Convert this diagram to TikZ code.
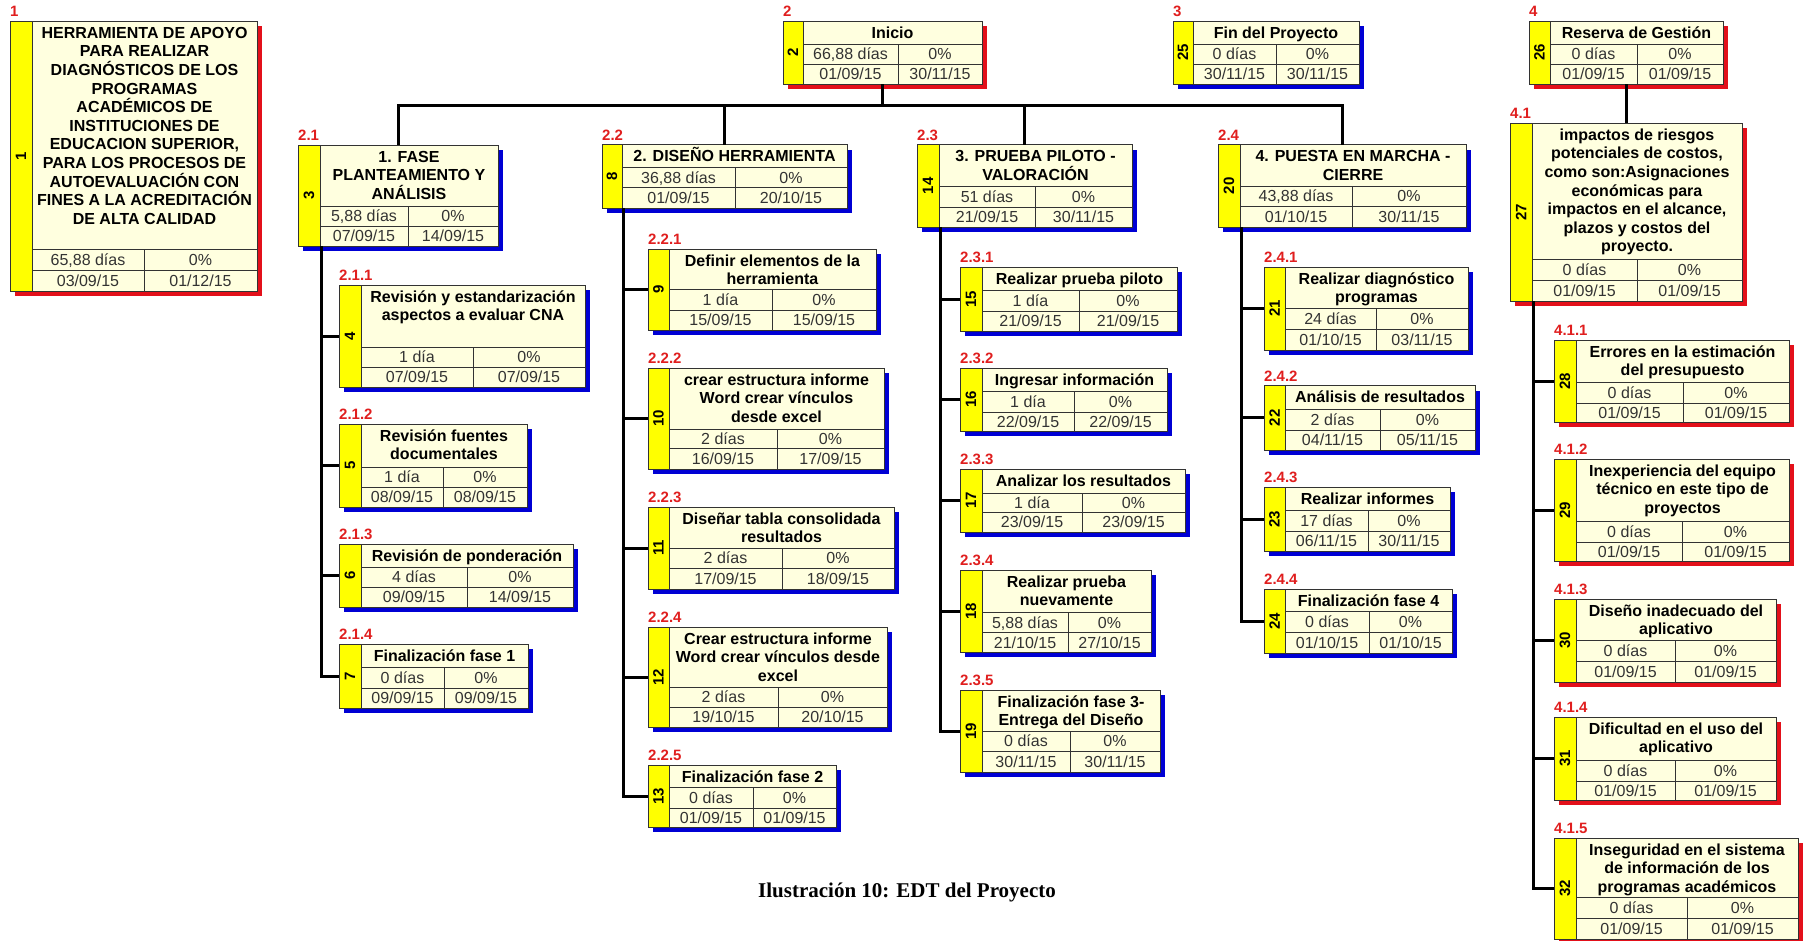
\documentclass[tikz,border=0pt]{standalone}
\usepackage{fontspec}
\setmainfont{Liberation Sans}
\newfontfamily\capfont{Liberation Serif}
\usetikzlibrary{fit}
\definecolor{cream}{HTML}{FFFFDF}
\definecolor{stripyellow}{HTML}{FFFF00}
\definecolor{shred}{HTML}{E3101A}
\definecolor{shblue}{HTML}{0000D4}
\definecolor{labelred}{HTML}{E01E1E}
\definecolor{framegray}{HTML}{333333}
\definecolor{datagray}{HTML}{333333}
\tikzset{
  wbsfill/.style={fill=cream, inner sep=0pt, outer sep=0pt},
  gridline/.style={draw=framegray, line width=0.8pt},
  frameline/.style={draw=framegray, line width=1pt},
  numtext/.style={rotate=90, inner sep=0pt, font=\bfseries\fontsize{15}{15}\selectfont},
  labeltext/.style={anchor=base west, inner sep=0pt, text=labelred, font=\bfseries\fontsize{15}{15}\selectfont},
  titletext/.style={anchor=north, inner sep=0pt, align=center, font=\bfseries\fontsize{16}{18.6}\selectfont},
  celltext/.style={inner sep=0pt, text height=11.5pt, text depth=0pt, text=datagray, font=\fontsize{16}{16}\selectfont},
  conn/.style={line width=3pt, draw=black, line join=miter},
  captiontext/.style={inner sep=0pt, font=\capfont\bfseries\fontsize{21}{21}\selectfont},
}
\newcommand\geo[8]{\def\Xa{#1}\def\Ya{#2}\def\Xb{#3}\def\Yb{#4}\def\Xy{#5}\def\Yt{#6}\def\Yr{#7}\def\Xc{#8}}
% #1 name, #2 shadow colour, #3 number, #4 label, #5 title, #6 duration, #7 start, #8 end
\newcommand\wbs[8]{%
  \fill[#2] ({\Xa+5},{\Ya+5}) rectangle ({\Xb+5},{\Yb+5});
  \coordinate (#1-nw) at (\Xa,\Ya);
  \coordinate (#1-se) at (\Xb,\Yb);
  \node[wbsfill, fit=(#1-nw)(#1-se)] (#1) {};
  \fill[stripyellow] (\Xa,\Ya) rectangle (\Xy,\Yb);
  \draw[gridline] (\Xy,\Ya) -- (\Xy,\Yb) (\Xy,\Yt) -- (\Xb,\Yt) (\Xy,\Yr) -- (\Xb,\Yr) (\Xc,\Yt) -- (\Xc,\Yb);
  \draw[frameline] (\Xa,\Ya) rectangle (\Xb,\Yb);
  \node[numtext] at ({(\Xa+\Xy)/2},{(\Ya+\Yb)/2}) {#3};
  \node[labeltext] at (\Xa,{\Ya-4.5}) {#4};
  \node[titletext] at ({(\Xy+\Xb)/2},{\Ya+5}) {\rule{0pt}{12pt}#5};
  \node[celltext] at ({(\Xy+\Xc)/2},{(\Yt+\Yr)/2}) {#6};
  \node[celltext] at ({(\Xc+\Xb)/2},{(\Yt+\Yr)/2}) {0\%};
  \node[celltext] at ({(\Xy+\Xc)/2},{(\Yr+\Yb)/2}) {#7};
  \node[celltext] at ({(\Xc+\Xb)/2},{(\Yr+\Yb)/2}) {#8};
  \coordinate (#1-sp) at ({\Xy+1},\Yb);
}
\begin{document}
\begin{tikzpicture}[x=1pt,y=-1pt]
\useasboundingbox (0,0) rectangle (1803,940);
\fill[white] (0,0) rectangle (1803,940);
% top level
\geo{10}{21}{257}{291}{32}{249}{270}{144}
\wbs{n1}{shred}{1}{1}{HERRAMIENTA DE APOYO\\PARA REALIZAR\\DIAGNÓSTICOS DE LOS\\PROGRAMAS\\ACADÉMICOS DE\\INSTITUCIONES DE\\EDUCACION SUPERIOR,\\PARA LOS PROCESOS DE\\AUTOEVALUACIÓN CON\\FINES A LA ACREDITACIÓN\\DE ALTA CALIDAD}{65,88 días}{03/09/15}{01/12/15}
\geo{783}{21}{982}{84}{803}{44}{64}{898}
\wbs{n2}{shred}{2}{2}{Inicio}{66,88 días}{01/09/15}{30/11/15}
\geo{1173}{21}{1359}{84}{1193}{44}{64}{1276}
\wbs{n25}{shblue}{25}{3}{Fin del Proyecto}{0 días}{30/11/15}{30/11/15}
\geo{1529}{21}{1723}{84}{1550}{44}{64}{1637}
\wbs{n26}{shred}{26}{4}{Reserva de Gestión}{0 días}{01/09/15}{01/09/15}
\geo{1510}{123}{1742}{301}{1532}{259}{280}{1637}
\wbs{n27}{shred}{27}{4.1}{impactos de riesgos\\potenciales de costos,\\como son:Asignaciones\\económicas para\\impactos en el alcance,\\plazos y costos del\\proyecto.}{0 días}{01/09/15}{01/09/15}
% phases
\geo{298}{145}{498}{246}{320}{206}{226}{408}
\wbs{n3}{shblue}{3}{2.1}{1. FASE\\PLANTEAMIENTO Y\\ANÁLISIS}{5,88 días}{07/09/15}{14/09/15}
\geo{602}{144.5}{847}{208}{622}{167}{187.5}{735}
\wbs{n8}{shblue}{8}{2.2}{\smash{2. DISEÑO HERRAMIENTA}}{36,88 días}{01/09/15}{20/10/15}
\geo{917}{144.5}{1132}{227}{939}{186}{207}{1035}
\wbs{n14}{shblue}{14}{2.3}{3. PRUEBA PILOTO -\\VALORACIÓN}{51 días}{21/09/15}{30/11/15}
\geo{1218}{144.5}{1466}{227}{1240}{186}{206}{1352}
\wbs{n20}{shblue}{20}{2.4}{4. PUESTA EN MARCHA -\\CIERRE}{43,88 días}{01/10/15}{30/11/15}
% 2.1.x
\geo{339}{285}{585}{387}{361}{347}{367}{473}
\wbs{n4}{shblue}{4}{2.1.1}{Revisión y estandarización\\aspectos a evaluar CNA}{1 día}{07/09/15}{07/09/15}
\geo{339}{424}{527}{507}{361}{467}{487}{443}
\wbs{n5}{shblue}{5}{2.1.2}{Revisión fuentes\\documentales}{1 día}{08/09/15}{08/09/15}
\geo{339}{544}{573}{607}{361}{567}{587}{467}
\wbs{n6}{shblue}{6}{2.1.3}{Revisión de ponderación}{4 días}{09/09/15}{14/09/15}
\geo{339}{644}{528}{708}{361}{667}{688}{444}
\wbs{n7}{shblue}{7}{2.1.4}{Finalización fase 1}{0 días}{09/09/15}{09/09/15}
% 2.2.x
\geo{648}{249}{876}{330}{669}{289}{310}{772}
\wbs{n9}{shblue}{9}{2.2.1}{Definir elementos de la\\herramienta}{1 día}{15/09/15}{15/09/15}
\geo{648}{368}{884}{469}{669}{429}{448}{777}
\wbs{n10}{shblue}{10}{2.2.2}{crear estructura informe\\Word crear vínculos\\desde excel}{2 días}{16/09/15}{17/09/15}
\geo{648}{507}{894}{589}{669}{548}{568}{782}
\wbs{n11}{shblue}{11}{2.2.3}{Diseñar tabla consolidada\\resultados}{2 días}{17/09/15}{18/09/15}
\geo{648}{627}{887}{727}{669}{687}{707}{778}
\wbs{n12}{shblue}{12}{2.2.4}{Crear estructura informe\\Word crear vínculos desde\\excel}{2 días}{19/10/15}{20/10/15}
\geo{648}{765}{836}{827}{669}{787}{808}{753}
\wbs{n13}{shblue}{13}{2.2.5}{Finalización fase 2}{0 días}{01/09/15}{01/09/15}
% 2.3.x
\geo{960}{267}{1177}{331}{982}{290}{311}{1079}
\wbs{n15}{shblue}{15}{2.3.1}{Realizar prueba piloto}{1 día}{21/09/15}{21/09/15}
\geo{960}{368}{1167}{431}{982}{391}{412}{1074}
\wbs{n16}{shblue}{16}{2.3.2}{Ingresar información}{1 día}{22/09/15}{22/09/15}
\geo{960}{469}{1185}{532}{982}{493}{512}{1082}
\wbs{n17}{shblue}{17}{2.3.3}{Analizar los resultados}{1 día}{23/09/15}{23/09/15}
\geo{960}{570}{1151}{652}{982}{612}{632.5}{1068}
\wbs{n18}{shblue}{18}{2.3.4}{Realizar prueba\\nuevamente}{5,88 días}{21/10/15}{27/10/15}
\geo{960}{690}{1160}{772}{982}{731}{751}{1070}
\wbs{n19}{shblue}{19}{2.3.5}{Finalización fase 3-\\Entrega del Diseño}{0 días}{30/11/15}{30/11/15}
% 2.4.x
\geo{1264}{267}{1468}{350}{1285}{308}{329}{1376}
\wbs{n21}{shblue}{21}{2.4.1}{Realizar diagnóstico\\programas}{24 días}{01/10/15}{03/11/15}
\geo{1264}{385.5}{1475}{450}{1285}{409}{430}{1380}
\wbs{n22}{shblue}{22}{2.4.2}{Análisis de resultados}{2 días}{04/11/15}{05/11/15}
\geo{1264}{487}{1450}{551}{1285}{510.5}{531}{1368}
\wbs{n23}{shblue}{23}{2.4.3}{Realizar informes}{17 días}{06/11/15}{30/11/15}
\geo{1264}{589}{1452}{653}{1285}{611}{632}{1369}
\wbs{n24}{shblue}{24}{2.4.4}{Finalización fase 4}{0 días}{01/10/15}{01/10/15}
% 4.1.x
\geo{1554}{340}{1789}{422}{1576}{382}{403}{1683}
\wbs{n28}{shred}{28}{4.1.1}{Errores en la estimación\\del presupuesto}{0 días}{01/09/15}{01/09/15}
\geo{1554}{459}{1789}{561}{1576}{521}{542}{1682}
\wbs{n29}{shred}{29}{4.1.2}{Inexperiencia del equipo\\técnico en este tipo de\\proyectos}{0 días}{01/09/15}{01/09/15}
\geo{1554}{599}{1776}{682}{1576}{640}{661}{1675}
\wbs{n30}{shred}{30}{4.1.3}{Diseño inadecuado del\\aplicativo}{0 días}{01/09/15}{01/09/15}
\geo{1554}{717}{1776}{800}{1576}{760}{781}{1675}
\wbs{n31}{shred}{31}{4.1.4}{Dificultad en el uso del\\aplicativo}{0 días}{01/09/15}{01/09/15}
\geo{1554}{838}{1798}{939}{1576}{897}{918}{1687}
\wbs{n32}{shred}{32}{4.1.5}{Inseguridad en el sistema\\de información de los\\programas académicos}{0 días}{01/09/15}{01/09/15}
% connectors
\coordinate (bus) at (0,105);
\draw[conn] (n2.south) -- (n2.south |- bus);
\draw[conn] (n3.north) -- (n3.north |- bus) -- (n20.north |- bus) -- (n20.north);
\draw[conn] (n8.north) -- (n8.north |- bus);
\draw[conn] (n14.north) -- (n14.north |- bus);
\draw[conn] (n26.south) -- (n26.south |- n27.north);
\draw[conn] (n3-sp) |- (n7.west);
\foreach \c in {n4,n5,n6} \draw[conn] (n3-sp |- \c.west) -- (\c.west);
\draw[conn] (n8-sp) |- (n13.west);
\foreach \c in {n9,n10,n11,n12} \draw[conn] (n8-sp |- \c.west) -- (\c.west);
\draw[conn] (n14-sp) |- (n19.west);
\foreach \c in {n15,n16,n17,n18} \draw[conn] (n14-sp |- \c.west) -- (\c.west);
\draw[conn] (n20-sp) |- (n24.west);
\foreach \c in {n21,n22,n23} \draw[conn] (n20-sp |- \c.west) -- (\c.west);
\draw[conn] (n27-sp) |- (n32.west);
\foreach \c in {n28,n29,n30,n31} \draw[conn] (n27-sp |- \c.west) -- (\c.west);
% caption
\node[captiontext] (cap) at (907,892) {Ilustración 10: EDT del Proyecto};
\end{tikzpicture}
\end{document}
